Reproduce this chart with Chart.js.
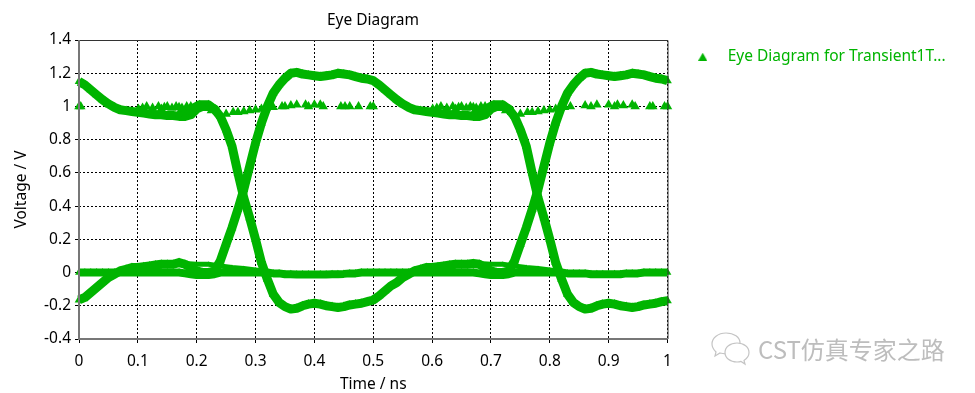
<!DOCTYPE html>
<html>
<head>
<meta charset="utf-8">
<style>
html, body { margin: 0; padding: 0; background: #fff; }
#wrap { position: relative; width: 975px; height: 393px; overflow: hidden; }
#mark { position: absolute; left: 758px; top: 331px; font: 24px "Noto Sans CJK SC", sans-serif; color: #bdbdbd; white-space: nowrap; }
#icon { position: absolute; left: 710px; top: 331px; }
</style>
</head>
<body>
<div id="wrap">
  <canvas id="eye" width="975" height="393"></canvas>
  <svg id="icon" width="46" height="36" fill="#fff" stroke="#c4c4c4" stroke-width="1.2">
    <path d="M16 2C8 2 2 7 2 13c0 4 2 6 4 8l-1 4 5-3c2 .6 4 .8 6 .8 8 0 14-5 14-10.800S24 2 16 2z"/>
    <path d="M27 12c-7 0-12 4-12 9.500S20 31 27 31c1.500 0 3-.2 4-.6l4 2.600-1-3.500c3-2 5-4.500 5-8 0-5.500-5-9.500-12-9.500z"/>
  </svg>
  <div id="mark">CST仿真专家之路</div>
</div>
<script src="https://cdn.jsdelivr.net/npm/chart.js@4"></script>
<script>
/* ================= DATA ================= */
const chartTitle = "Eye Diagram";
const legendLabel = "Eye Diagram for Transient1T...";
const xAxisTitle = "Time / ns";
const yAxisTitle = "Voltage / V";
const xTickLabels = ["0", "0.1", "0.2", "0.3", "0.4", "0.5", "0.6", "0.7", "0.8", "0.9", "1"];
const yTickLabels = ["-0.4", "-0.2", "0", "0.2", "0.4", "0.6", "0.8", "1", "1.2", "1.4"];

// shared time base for the thick traces (0 to 1 ns)
const timeNs = [
  0, .01, .02, .03, .04, .05, .06, .07, .08, .09,
  .10, .11, .12, .13, .14, .15, .16, .17, .18, .19,
  .20, .21, .22, .23, .24, .25, .26, .27, .28, .29,
  .30, .31, .32, .33, .34, .35, .36, .37, .38, .39,
  .40, .41, .42, .43, .44, .45, .46, .47, .48, .49,
  .50, .51, .52, .53, .54, .55, .56, .57, .58, .59,
  .60, .61, .62, .63, .64, .65, .66, .67, .68, .69,
  .70, .71, .72, .73, .74, .75, .76, .77, .78, .79,
  .80, .81, .82, .83, .84, .85, .86, .87, .88, .89,
  .90, .91, .92, .93, .94, .95, .96, .97, .98, .99, 1
];

// starts high, falls at 0.28, rises again at 0.78
const traceHighLowHigh = [
  1.15, 1.13, 1.10, 1.07, 1.04, 1.015, .995, .98, .975, .97,
  .965, .96, .955, .95, .95, .945, .945, .94, .94, .95,
  .985, 1.0, 1.0, .985, .94, .86, .76, .6, .45, .33,
  .2, .06, -.04, -.13, -.18, -.205, -.22, -.215, -.2, -.19,
  -.185, -.19, -.2, -.205, -.21, -.205, -.195, -.19, -.185, -.175,
  -.165, -.14, -.11, -.08, -.06, -.03, -.01, .01, .02, .03,
  .03, .035, .04, .045, .05, .05, .05, .055, .05, .03,
  .01, 0, 0, .01, .07, .17, .27, .38, .5, .64,
  .78, .9, 1.0, 1.08, 1.13, 1.17, 1.2, 1.205, 1.195, 1.19,
  1.185, 1.18, 1.185, 1.19, 1.2, 1.195, 1.19, 1.18, 1.17, 1.165, 1.155
];

// starts low, rises at 0.28, falls again at 0.78
const traceLowHighLow = [
  -.165, -.15, -.12, -.09, -.06, -.03, -.01, .01, .02, .03,
  .03, .035, .04, .045, .05, .05, .05, .06, .05, .03,
  .01, 0, 0, .01, .07, .17, .27, .38, .5, .64,
  .78, .9, 1.0, 1.08, 1.13, 1.17, 1.2, 1.205, 1.195, 1.19,
  1.185, 1.18, 1.185, 1.19, 1.2, 1.195, 1.19, 1.18, 1.17, 1.165,
  1.155, 1.13, 1.10, 1.07, 1.04, 1.015, .995, .98, .975, .97,
  .965, .96, .955, .95, .95, .945, .945, .94, .94, .95,
  .985, 1.0, 1.0, .985, .94, .86, .76, .6, .45, .33,
  .2, .06, -.04, -.13, -.18, -.205, -.22, -.215, -.2, -.19,
  -.185, -.19, -.2, -.205, -.21, -.205, -.195, -.19, -.185, -.175, -.17
];

// stays low
const traceLowFlat = [
  0, 0, 0, 0, 0, 0, 0, 0, 0, 0,
  0, 0, 0, 0, 0, 0, 0, 0, -.005, -.01,
  -.015, -.015, -.015, -.01, 0, 0, 0, 0, 0, 0,
  0, 0, 0, -.005, -.005, -.01, -.01, -.012, -.012, -.012,
  -.012, -.012, -.012, -.01, -.01, -.008, -.005, -.005, 0, 0,
  0, 0, 0, 0, 0, 0, 0, 0, 0, 0,
  0, 0, 0, 0, 0, 0, 0, 0, -.005, -.01,
  -.015, -.015, -.015, -.01, 0, 0, 0, 0, 0, 0,
  0, 0, 0, -.005, -.005, -.005, -.005, -.01, -.01, -.01,
  -.01, -.01, -.01, -.005, -.005, -.005, 0, 0, 0, 0, 0
];

// tail of the low bump after the eye opens, first and second period
const lowTailTime = [.18, .2, .22, .24, .26, .28, .30, .32];
const lowTailVolt = [.055, .05, .05, .04, .03, .025, .015, .005];
const lowTailTime2 = [.68, .7, .72, .74, .76, .78, .80, .82];
const lowTailVolt2 = [.055, .05, .05, .04, .03, .025, .015, .005];

// top of the blob where the high traces meet the rail
const highCapTime = [.17, .19, .205, .22, .235];
const highCapVolt = [.96, .98, 1.01, 1.01, .97];
const highCapTime2 = [.67, .69, .705, .72, .735];
const highCapVolt2 = [.96, .98, 1.01, 1.01, .97];

// the separate triangles along the 1 V rail
const railTime = [
  0, .003, .101, .108, .115, .125, .135, .14, .145, .15, .158, .165, .17, .175, .183, .19,
  .225, .235, .25, .262, .27, .28, .29, .30, .31, .318, .33, .345, .35, .36, .37, .385, .39, .4, .41,
  .415, .445, .452, .46, .475, .495, .5,
  .601, .608, .615, .625, .635, .64, .645, .65, .658, .665, .67, .675, .683, .69,
  .725, .735, .75, .762, .77, .78, .79, .80, .81, .818, .825, .835, .86, .87, .88, .9, .91, .915, .925, .94, .945, .97, .975, .995, 1
];
const railVolt = [
  1.0, 1.0, .985, .99, 1.0, .99, 1.0, .985, .995, 1.0, .99, 1.0, .995, .99, 1.0, 1.0,
  .975, .97, .955, .965, .965, .97, .975, .98, .985, .99, .995, 1.0, 1.0, 1.005, 1.01, 1.01, 1.0, 1.01, 1.01,
  1.0, 1.0, 1.0, 1.0, 1.0, 1.0, 1.0,
  .985, .99, 1.0, .99, 1.0, .985, .995, 1.0, .99, 1.0, .995, .99, 1.0, 1.0,
  .975, .965, .955, .965, .965, .97, .975, .98, .985, .99, .995, 1.0, 1.005, 1.0, 1.01, 1.01, 1.0, 1.01, 1.005, 1.01, 1.0, 1.0, 1.0, 1.0, 1.0
];

/* ================= HELPERS ================= */
const GREEN = "#00b400";
const pairs = (xs, ys) => xs.map((x, i) => ({ x, y: ys[i] }));

function thickTrace(label, xs, ys, width) {
  return {
    label, data: pairs(xs, ys), showLine: true, borderColor: GREEN, backgroundColor: GREEN, borderWidth: width,
    borderJoinStyle: "round", borderCapStyle: "butt", pointStyle: "triangle", pointRadius: width / 2 + 0.5, pointBorderWidth: 0
  };
}

// legend marker sits far from its text, which the stock triangle cannot do
function legendMarker() {
  const c = document.createElement("canvas");
  c.width = 9; c.height = 8;
  const g = c.getContext("2d");
  g.fillStyle = GREEN;
  g.beginPath(); g.moveTo(4.5, 0); g.lineTo(9, 8); g.lineTo(0, 8); g.fill();
  return c;
}

// solid frame round the plot, title over the plot, roomy legend
const plotFrame = {
  id: "plotFrame",
  afterLayout(chart) {
    chart.titleBlock.left = 0;
    chart.titleBlock.right = 746;
    chart.legend.left += 9;
    chart.legend.right = 975;
  },
  afterDatasetsDraw(chart) {
    const a = chart.chartArea, g = chart.ctx;
    g.save();
    g.strokeStyle = "#333"; g.lineWidth = 1;
    g.beginPath();
    g.moveTo(a.left, a.top + .5); g.lineTo(a.right + .5, a.top + .5); g.lineTo(a.right + .5, a.bottom);
    g.stroke();
    g.strokeStyle = "#777"; g.lineWidth = 2;
    g.beginPath();
    g.moveTo(a.left, a.top); g.lineTo(a.left, a.bottom); g.lineTo(a.right, a.bottom);
    g.stroke();
    g.restore();
  }
};

/* ================= CHART ================= */
const FONT = { family: "'Noto Sans', sans-serif", size: 15.5 };
const gridLines = { color: "#000", lineWidth: 1, tickLength: 4, tickColor: "#000" };

new Chart(document.getElementById("eye"), {
  type: "scatter",
  data: {
    datasets: [
      {
        label: legendLabel, data: pairs(railTime, railVolt), showLine: false, borderColor: GREEN,
        backgroundColor: GREEN, pointStyle: "triangle", pointRadius: 5.5, pointBorderWidth: 0
      },
      thickTrace("high-low-high", timeNs, traceHighLowHigh, 9),
      thickTrace("low-high-low", timeNs, traceLowHighLow, 9),
      thickTrace("low", timeNs, traceLowFlat, 8),
      thickTrace("low tail", lowTailTime, lowTailVolt, 5),
      thickTrace("low tail 2", lowTailTime2, lowTailVolt2, 5),
      thickTrace("high cap", highCapTime, highCapVolt, 9),
      thickTrace("high cap 2", highCapTime2, highCapVolt2, 9)
    ]
  },
  options: {
    responsive: false,
    animation: false,
    clip: false,
    layout: { padding: { right: 85, left: 0, top: 0, bottom: 0 } },
    plugins: {
      title: { display: true, text: chartTitle, color: "#000", font: { ...FONT, weight: "normal" }, padding: { top: 11, bottom: 10.400 } },
      legend: {
        position: "right", align: "start", fullSize: false,
        labels: {
          font: FONT, color: GREEN, usePointStyle: true, pointStyle: legendMarker(), pointStyleWidth: 34.500,
          padding: 9, filter: item => item.datasetIndex === 0
        }
      },
      tooltip: { enabled: false }
    },
    scales: {
      x: {
        type: "linear", min: 0, max: 1,
        title: { display: true, text: xAxisTitle, color: "#000", font: FONT, padding: { top: -1, bottom: -1.300 } },
        ticks: { stepSize: 0.1, color: "#000", font: FONT, maxRotation: 0, padding: 9, callback: (v, i) => xTickLabels[i] },
        grid: gridLines,
        border: { dash: [2, 2], display: false },
        afterFit: s => { s.height = 54; }
      },
      y: {
        type: "linear", min: -0.4, max: 1.4,
        title: { display: true, text: yAxisTitle, color: "#000", font: FONT, padding: { top: 12, bottom: 0 } },
        ticks: { stepSize: 0.2, color: "#000", font: FONT, padding: 4, callback: (v, i) => yTickLabels[i] },
        grid: gridLines,
        border: { dash: [2, 2], display: false },
        afterFit: s => { s.width = 79; }
      }
    }
  },
  plugins: [plotFrame]
});
</script>
</body>
</html>
